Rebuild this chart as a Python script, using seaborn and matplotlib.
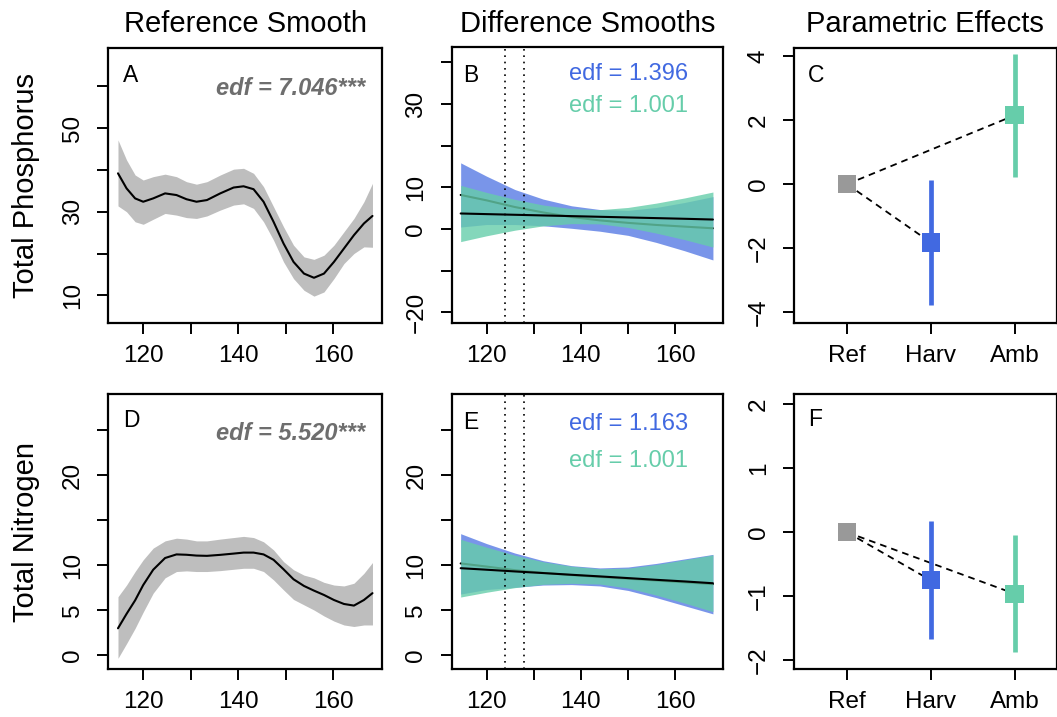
import matplotlib
matplotlib.use("Agg")
import matplotlib.pyplot as plt
import seaborn as sns

sns.set_theme(style="ticks")
plt.rcParams["font.family"] = ["Liberation Sans", "DejaVu Sans"]

# ---------------- data ----------------
# Reference smooths (day of year grid)
doy = [114.7, 116.5, 118.3, 120.0, 122.1, 124.6, 127.0, 129.1, 131.2, 133.4,
       136.2, 139.0, 141.1, 143.2, 145.3, 147.4, 149.5, 151.6, 153.8, 155.9,
       158.0, 160.1, 162.2, 164.3, 166.4, 168.2]
tp_fit = [39.2, 35.6, 33.2, 32.4, 33.2, 34.4, 34.0, 33.0, 32.4, 32.8, 34.4,
          35.8, 36.1, 35.4, 32.4, 27.6, 22.4, 18.0, 15.2, 14.2, 15.2, 18.0,
          21.2, 24.4, 27.2, 29.0]
tp_lo = [31.4, 30.0, 27.6, 27.0, 28.2, 29.6, 29.2, 28.6, 28.4, 29.0, 30.4,
         31.6, 31.9, 30.8, 27.6, 23.2, 18.0, 14.0, 11.2, 9.8, 10.8, 14.0,
         17.6, 20.0, 21.6, 21.5]
tp_hi = [47.2, 42.4, 38.8, 37.6, 38.4, 39.0, 38.4, 37.2, 36.6, 37.2, 38.8,
         40.2, 40.4, 39.2, 36.0, 31.2, 26.4, 22.0, 19.2, 18.6, 19.6, 22.0,
         25.2, 28.4, 32.4, 36.8]
tn_fit = [3.0, 4.6, 6.1, 7.8, 9.5, 10.8, 11.2, 11.16, 11.07, 11.04, 11.15,
          11.29, 11.4, 11.4, 11.2, 10.6, 9.55, 8.44, 7.7, 7.18, 6.7, 6.14,
          5.7, 5.52, 6.14, 6.9]
tn_lo = [-0.33, 1.3, 3.0, 4.8, 6.9, 8.6, 9.3, 9.37, 9.3, 9.3, 9.4, 9.55,
         9.66, 9.66, 9.3, 8.37, 7.26, 6.2, 5.6, 5.03, 4.37, 3.8, 3.37, 3.2,
         3.37, 3.37]
tn_hi = [6.5, 7.8, 9.3, 10.6, 11.9, 12.7, 13.0, 12.9, 12.7, 12.7, 12.9,
         13.07, 13.2, 13.07, 12.6, 11.7, 10.4, 9.5, 8.9, 8.6, 8.1, 7.8, 7.7,
         8.0, 9.1, 10.3]

# Difference smooths
doy_d = [114.5, 120, 126, 132, 138, 144, 150, 156, 162, 168]
tp_harv_fit = [8.2, 6.9, 5.3, 4.0, 2.9, 2.1, 1.5, 1.0, 0.6, 0.2]
tp_harv_lo = [0.5, 1.1, 1.1, 0.8, 0.2, -0.5, -1.5, -3.2, -5.2, -7.4]
tp_harv_hi = [15.9, 12.7, 9.5, 7.2, 5.6, 4.7, 4.5, 5.2, 6.4, 7.8]
tp_amb_fit = [3.75, 3.6, 3.44, 3.28, 3.12, 2.96, 2.8, 2.64, 2.48, 2.3]
tp_amb_lo = [-3.0, -1.6, -0.26, 0.78, 1.32, 1.26, 0.4, -0.96, -2.52, -4.3]
tp_amb_hi = [10.5, 8.8, 7.14, 5.78, 4.92, 4.66, 5.2, 6.24, 7.48, 8.9]

tn_harv_fit = [10.2, 9.85, 9.45, 9.15, 8.9, 8.7, 8.5, 8.3, 8.1, 7.9]
tn_harv_lo = [6.8, 7.3, 7.55, 7.8, 7.85, 7.7, 7.2, 6.4, 5.5, 4.6]
tn_harv_hi = [13.5, 12.4, 11.35, 10.5, 9.95, 9.7, 9.8, 10.2, 10.7, 11.2]
tn_amb_fit = [9.67, 9.5, 9.31, 9.13, 8.94, 8.76, 8.57, 8.38, 8.2, 8.0]
tn_amb_lo = [6.47, 7.0, 7.51, 7.88, 7.99, 7.91, 7.47, 6.68, 5.8, 4.85]
tn_amb_hi = [12.87, 12.0, 11.11, 10.38, 9.89, 9.61, 9.67, 10.08, 10.6, 11.15]

# Treatment window (day of year)
window = [124, 128]

# Parametric effects
treatments = ["Ref", "Harv", "Amb"]
tp_eff = [0.0, -1.82, 2.15]
tp_eff_lo = [0.0, -3.77, 0.22]
tp_eff_hi = [0.0, 0.13, 4.07]
tn_eff = [0.0, -0.75, -0.96]
tn_eff_lo = [0.0, -1.66, -1.87]
tn_eff_hi = [0.0, 0.18, -0.05]

# Effective degrees of freedom
tp_edf = ["7.046", "1.396", "1.001"]
tn_edf = ["5.520", "1.163", "1.001"]

# Axis ticks
doy_ticks = [120, 130, 140, 150, 160]
doy_tick_labels = ["120", "", "140", "", "160"]
tp_ticks = [10, 20, 30, 40, 50, 60]
tp_tick_labels = ["10", "", "30", "", "50", ""]
tpd_ticks = [-20, -10, 0, 10, 20, 30, 40]
tpd_tick_labels = ["\u221220", "", "0", "10", "", "30", ""]
tn_ticks = [0, 5, 10, 15, 20, 25]
tn_tick_labels = ["0", "5", "10", "", "20", ""]
tpe_ticks = [-4, -2, 0, 2, 4]
tpe_tick_labels = ["\u22124", "\u22122", "0", "2", "4"]
tne_ticks = [-2, -1, 0, 1, 2]
tne_tick_labels = ["\u22122", "\u22121", "0", "1", "2"]

# ---------------- styling ----------------
C_REF = "#999999"
C_HARV = "#4169E1"
C_AMB = "#66CDAA"
C_BAND = "#BEBEBE"
C_EDF = "#6E6E6E"
TICK_FS = 17.5
TITLE_FS = 21

W, H = 1057, 717
fig = plt.figure(figsize=(W / 100, H / 100), dpi=100)
fig.patch.set_facecolor("white")


def px_axes(left, top, right, bottom):
    return fig.add_axes([left / W, 1 - bottom / H, (right - left) / W,
                         (bottom - top) / H])


def style_axes(ax, xticks, xlabels, yticks, ylabels, xlim, ylim):
    ax.set_facecolor("white")
    for s in ax.spines.values():
        s.set_visible(True)
        s.set_color("black")
        s.set_linewidth(1.6)
    ax.set_xlim(xlim)
    ax.set_ylim(ylim)
    ax.set_xticks(xticks)
    ax.set_xticklabels(xlabels)
    ax.set_yticks(yticks)
    ax.set_yticklabels(ylabels, rotation=90, va="center")
    ax.tick_params(axis="both", direction="out", length=8, width=1.4,
                   color="black", labelsize=TICK_FS, labelcolor="black")
    ax.tick_params(axis="x", pad=7.5)
    ax.tick_params(axis="y", pad=9.5)
    ax.tick_params(top=False, right=False)
    ax.set_xlabel("")
    ax.set_ylabel("")
    ax.grid(False)


def panel_letter(ax, letter, x, y):
    ax.text(x, y, letter, transform=ax.transAxes, ha="left", va="baseline",
            fontsize=16.5, color="black")


def reference_panel(ax, fit, lo, hi, edf, ex, ey):
    ax.fill_between(doy, lo, hi, color=C_BAND, lw=0, zorder=1)
    sns.lineplot(x=doy, y=fit, color="black", lw=1.5, ax=ax, zorder=2)
    ax.text(ex, ey, f"edf = {edf}***", transform=ax.transAxes, ha="right",
            va="baseline", fontsize=17, fontweight="bold",
            fontstyle="italic", color=C_EDF)


def difference_panel(ax, harv, amb, edfs, ex, ey1, ey2):
    h_fit, h_lo, h_hi = harv
    a_fit, a_lo, a_hi = amb
    ax.fill_between(doy_d, h_lo, h_hi, color=C_HARV, alpha=0.7, lw=0,
                    zorder=1)
    sns.lineplot(x=doy_d, y=h_fit, color="black", lw=1.5, ax=ax, zorder=2)
    ax.fill_between(doy_d, a_lo, a_hi, color=C_AMB, alpha=0.8, lw=0,
                    zorder=3)
    sns.lineplot(x=doy_d, y=a_fit, color="black", lw=1.5, ax=ax, zorder=4)
    for d in window:
        ax.axvline(d, color="black", lw=1.2, ls=(0, (1, 2.8)), zorder=5)
    ax.text(ex, ey1, f"edf = {edfs[1]}", transform=ax.transAxes, ha="right",
            va="baseline", fontsize=17, color=C_HARV)
    ax.text(ex, ey2, f"edf = {edfs[2]}", transform=ax.transAxes, ha="right",
            va="baseline", fontsize=17, color=C_AMB)


def effects_panel(ax, est, lo, hi):
    pos = [1, 2, 3]
    colors = [C_REF, C_HARV, C_AMB]
    for i in (1, 2):
        ax.plot([pos[0], pos[i]], [est[0], est[i]], color="black", lw=1.3,
                ls=(0, (3.7, 2.8)), zorder=1)
        ax.vlines(pos[i], lo[i], hi[i], color=colors[i], lw=3.4, zorder=2)
    sns.scatterplot(x=pos, y=est, hue=treatments, palette=colors,
                    marker="s", s=175, edgecolor="none", legend=False,
                    ax=ax, zorder=3)


# ---------------- layout ----------------
ax_a = px_axes(108, 48, 382, 323.3)
ax_b = px_axes(451.7, 47, 723.3, 323.3)
ax_c = px_axes(794.3, 48, 1056.5, 323.3)
ax_d = px_axes(108, 394, 382, 669.3)
ax_e = px_axes(451.7, 394, 723.3, 669.3)
ax_f = px_axes(794.3, 394, 1056.5, 669.3)

xlim = (112.6, 170.2)

# Total phosphorus row
reference_panel(ax_a, tp_fit, tp_lo, tp_hi, tp_edf[0], 0.938, 0.829)
style_axes(ax_a, doy_ticks, doy_tick_labels, tp_ticks, tp_tick_labels,
           xlim, (3.3, 69.2))
panel_letter(ax_a, "A", 0.054, 0.877)

difference_panel(ax_b, (tp_harv_fit, tp_harv_lo, tp_harv_hi),
                 (tp_amb_fit, tp_amb_lo, tp_amb_hi), tp_edf,
                 0.870, 0.880, 0.764)
style_axes(ax_b, doy_ticks, doy_tick_labels, tpd_ticks, tpd_tick_labels,
           xlim, (-22.6, 43.7))
panel_letter(ax_b, "B", 0.042, 0.872)

effects_panel(ax_c, tp_eff, tp_eff_lo, tp_eff_hi)
style_axes(ax_c, [1, 2, 3], treatments, tpe_ticks, tpe_tick_labels,
           (0.37, 3.5), (-4.34, 4.25))
panel_letter(ax_c, "C", 0.053, 0.877)

# Total nitrogen row
reference_panel(ax_d, tn_fit, tn_lo, tn_hi, tn_edf[0], 0.938, 0.834)
style_axes(ax_d, doy_ticks, doy_tick_labels, tn_ticks, tn_tick_labels,
           xlim, (-1.55, 29.0))
panel_letter(ax_d, "D", 0.054, 0.881)

difference_panel(ax_e, (tn_harv_fit, tn_harv_lo, tn_harv_hi),
                 (tn_amb_fit, tn_amb_lo, tn_amb_hi), tn_edf,
                 0.870, 0.869, 0.735)
style_axes(ax_e, doy_ticks, doy_tick_labels, tn_ticks, tn_tick_labels,
           xlim, (-1.55, 29.0))
panel_letter(ax_e, "E", 0.042, 0.873)

effects_panel(ax_f, tn_eff, tn_eff_lo, tn_eff_hi)
style_axes(ax_f, [1, 2, 3], treatments, tne_ticks, tne_tick_labels,
           (0.37, 3.5), (-2.14, 2.16))
panel_letter(ax_f, "F", 0.053, 0.885)

# Column titles and row labels
for cx, title in [(245, "Reference Smooth"), (587.5, "Difference Smooths"),
                  (925, "Parametric Effects")]:
    fig.text(cx / W, 1 - 31.5 / H, title, ha="center", va="baseline",
             fontsize=TITLE_FS, color="black")
for cy, label in [(185.5, "Total Phosphorus"), (531.5, "Total Nitrogen")]:
    fig.text(26 / W, 1 - cy / H, label, ha="center", va="center",
             rotation=90, fontsize=TITLE_FS, color="black")

fig.savefig("out.png", dpi=100, facecolor="white")
